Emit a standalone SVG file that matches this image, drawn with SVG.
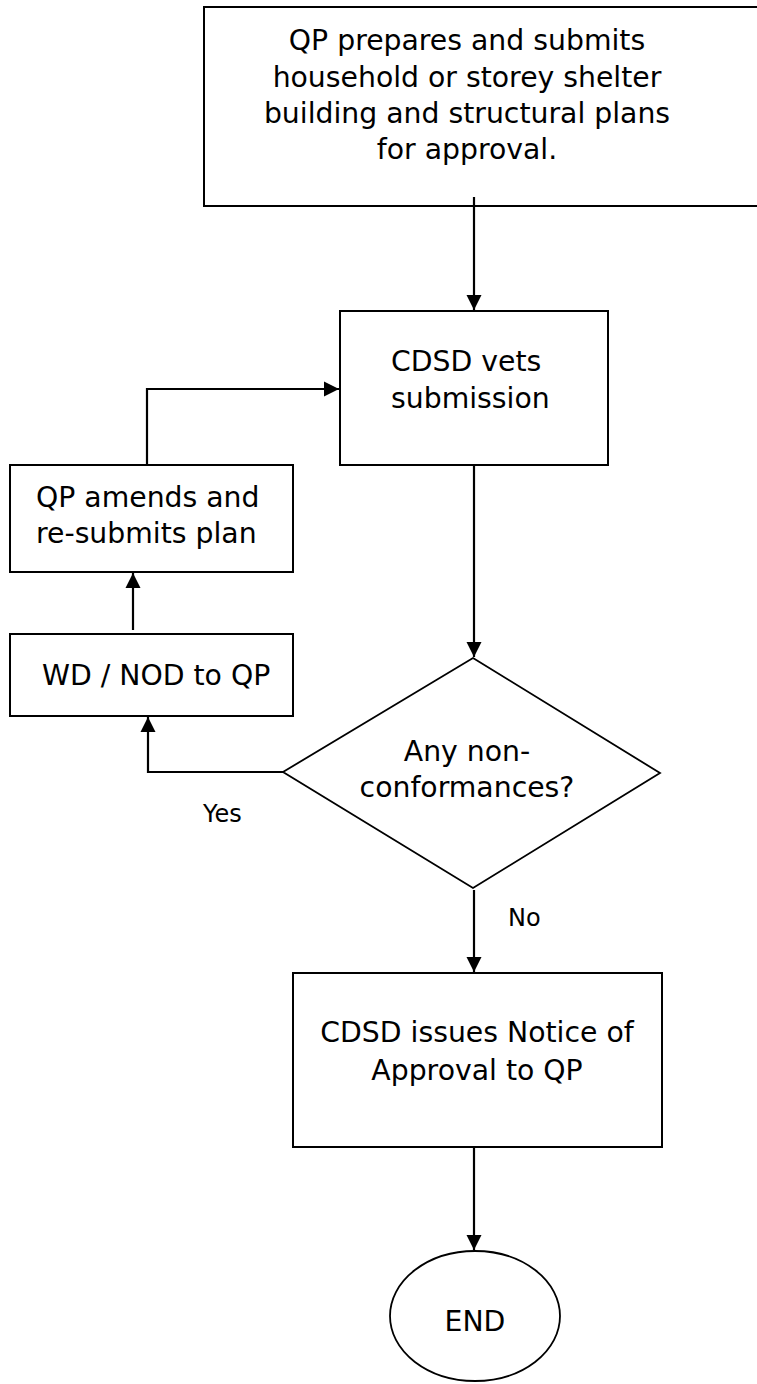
<svg xmlns="http://www.w3.org/2000/svg" width="757" height="1384" viewBox="0 0 757 1384">
<style>
  .box { fill: #ffffff; stroke: #000000; stroke-width: 2; }
  .thin { fill: #ffffff; stroke: #000000; stroke-width: 1.8; }
  .lbl { font-family: "DejaVu Sans", Verdana, sans-serif; font-size: 28.3px; fill: #000000; }
  .mid { text-anchor: middle; }
  .small { font-family: "DejaVu Sans", Verdana, sans-serif; font-size: 24px; fill: #000000; }
  .conn { fill: none; stroke: #000000; stroke-width: 2.2; }
</style>
<defs>
  <marker id="arr" markerUnits="userSpaceOnUse" markerWidth="16" markerHeight="16" refX="15" refY="8" orient="auto" viewBox="0 0 16 16">
    <path d="M0,0.5 L15,8 L0,15.5 z" fill="#000000"/>
  </marker>
</defs>
<rect width="757" height="1384" fill="#ffffff"/>

<g id="start">
  <rect class="box" x="204" y="7" width="570" height="199"/>
  <text class="lbl mid" x="467" y="50">QP prepares and submits</text>
  <text class="lbl mid" x="467" y="86.5">household or storey shelter</text>
  <text class="lbl mid" x="467" y="123">building and structural plans</text>
  <text class="lbl mid" x="467" y="159">for approval.</text>
</g>

<g id="vet">
  <rect class="box" x="340" y="311" width="268" height="154"/>
  <text class="lbl" x="391" y="371">CDSD vets</text>
  <text class="lbl" x="391" y="408">submission</text>
</g>

<g id="amend">
  <rect class="box" x="10" y="465" width="283" height="107"/>
  <text class="lbl" x="36" y="507">QP amends and</text>
  <text class="lbl" x="36" y="543">re-submits plan</text>
</g>

<g id="wd">
  <rect class="box" x="10" y="634" width="283" height="82"/>
  <text class="lbl" x="42" y="685">WD / NOD to QP</text>
</g>

<g id="decision">
  <polygon class="thin" points="473,658 660,773 473,888 283,772"/>
  <text class="lbl mid" x="467" y="761">Any non-</text>
  <text class="lbl mid" x="467" y="797">conformances?</text>
</g>

<g id="labels">
  <text class="small" x="203" y="822">Yes</text>
  <text class="small" x="508" y="926">No</text>
</g>

<g id="approve">
  <rect class="box" x="293" y="973" width="369" height="174"/>
  <text class="lbl mid" x="477" y="1042">CDSD issues Notice of</text>
  <text class="lbl mid" x="477" y="1080">Approval to QP</text>
</g>

<g id="end">
  <ellipse class="thin" cx="475" cy="1316" rx="85" ry="65"/>
  <text class="lbl mid" x="475" y="1331">END</text>
</g>

<g id="connectors">
  <path class="conn" d="M474,197 V310" marker-end="url(#arr)"/>
  <path class="conn" d="M474,465 V657" marker-end="url(#arr)"/>
  <path class="conn" d="M283,772 H148 V717" marker-end="url(#arr)"/>
  <path class="conn" d="M133,630 V573" marker-end="url(#arr)"/>
  <path class="conn" d="M147,465 V389 H339" marker-end="url(#arr)"/>
  <path class="conn" d="M474,890 V972" marker-end="url(#arr)"/>
  <path class="conn" d="M474,1147 V1250" marker-end="url(#arr)"/>
</g>
</svg>
